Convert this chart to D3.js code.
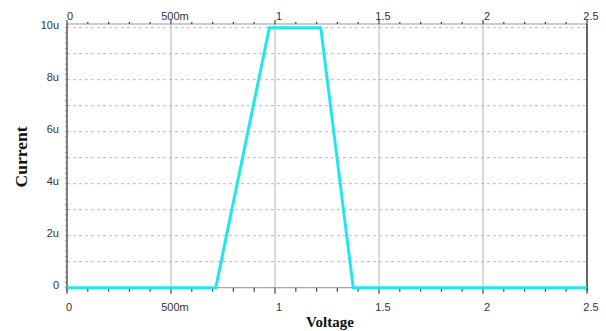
<!DOCTYPE html>
<html>
<head>
<meta charset="utf-8">
<script src="https://cdn.jsdelivr.net/npm/d3@7"></script>
<style>
  body { margin: 0; background: #fff; }
  svg { display: block; }
  .tick-label { font-family: "Liberation Sans", Arial, sans-serif; font-size: 11px; fill: #333; }
  .axis-title { font-family: "Liberation Serif", "Times New Roman", serif; font-weight: bold; font-size: 15px; fill: #111; }
</style>
</head>
<body>
<svg id="chart" width="606" height="331"></svg>
<script>
/* ───────────── DATA ───────────── */
const voltage = [0, 0.715, 0.973, 1.22, 1.376, 2.5];       // V
const current = [0, 0, 10, 10, 0, 0];                      // µA
const xTicks  = [0, 0.5, 1, 1.5, 2, 2.5];
const xLabels = ["0", "500m", "1", "1.5", "2", "2.5"];
const yTicks  = [0, 2, 4, 6, 8, 10];
const yLabels = ["0", "2u", "4u", "6u", "8u", "10u"];

/* ───────────── LAYOUT ───────────── */
const svg = d3.select("#chart");
const plotL = 67, plotR = 587, plotT = 27.7, plotB = 287.7, axisTop = 24;

const x = d3.scaleLinear().domain([0, 2.5]).range([plotL, plotR]);
const y = d3.scaleLinear().domain([0, 10]).range([plotB, plotT]);

const g = svg.append("g");

/* horizontal dashed grid, every 1u */
g.selectAll("line.hgrid")
  .data(d3.range(0, 11))
  .join("line")
  .attr("x1", plotL).attr("x2", plotR)
  .attr("y1", d => y(d)).attr("y2", d => y(d))
  .attr("stroke", d => d === 0 ? "#e8b0b0" : "#bbb")
  .attr("stroke-width", 1)
  .attr("stroke-dasharray", "3,3");

/* vertical grid at major ticks */
g.selectAll("line.vgrid")
  .data(xTicks.slice(1, -1))
  .join("line")
  .attr("x1", d => x(d)).attr("x2", d => x(d))
  .attr("y1", axisTop).attr("y2", plotB)
  .attr("stroke", "#b4b4b4")
  .attr("stroke-width", 1);

/* top axis line + ticks */
g.append("line")
  .attr("x1", plotL).attr("x2", plotR)
  .attr("y1", axisTop).attr("y2", axisTop)
  .attr("stroke", "#999").attr("stroke-width", 1);

const minorX = d3.range(0, 26).map(i => i / 10);
g.selectAll("line.topTick")
  .data(minorX)
  .join("line")
  .attr("x1", d => x(d)).attr("x2", d => x(d))
  .attr("y1", d => (Math.round(d * 10) % 5 === 0) ? axisTop - 4 : axisTop - 2)
  .attr("y2", axisTop)
  .attr("stroke", "#444").attr("stroke-width", 1.2);

/* bottom axis line + ticks */
g.append("line")
  .attr("x1", plotL).attr("x2", plotR)
  .attr("y1", plotB).attr("y2", plotB)
  .attr("stroke", "#999").attr("stroke-width", 1);

g.selectAll("line.botTick")
  .data(minorX)
  .join("line")
  .attr("x1", d => x(d)).attr("x2", d => x(d))
  .attr("y1", plotB)
  .attr("y2", d => (Math.round(d * 10) % 5 === 0) ? plotB + 6 : plotB + 4)
  .attr("stroke", "#444").attr("stroke-width", 1.2);

/* left axis with minor ticks */
g.append("line")
  .attr("x1", plotL).attr("x2", plotL)
  .attr("y1", axisTop).attr("y2", plotB + 3)
  .attr("stroke", "#555").attr("stroke-width", 1.5);

g.selectAll("line.yTick")
  .data(d3.range(0, 51).map(i => i / 5))
  .join("line")
  .attr("x1", plotL - 2).attr("x2", plotL + 1)
  .attr("y1", d => y(d)).attr("y2", d => y(d))
  .attr("stroke", "#777").attr("stroke-width", 0.8);

/* right border */
g.append("line")
  .attr("x1", plotR).attr("x2", plotR)
  .attr("y1", axisTop).attr("y2", plotB + 3)
  .attr("stroke", "#333").attr("stroke-width", 1.5);

/* tick labels */
g.selectAll("text.xTop")
  .data(xTicks)
  .join("text")
  .attr("class", "tick-label")
  .attr("x", (d, i) => x(d) + (i === 0 ? 3 : 4))
  .attr("y", 20)
  .attr("text-anchor", "middle")
  .text((d, i) => xLabels[i]);

g.selectAll("text.xBot")
  .data(xTicks)
  .join("text")
  .attr("class", "tick-label")
  .attr("x", (d, i) => x(d) + (i === 0 ? 2 : 4))
  .attr("y", 311)
  .attr("text-anchor", "middle")
  .text((d, i) => xLabels[i]);

g.selectAll("text.yLab")
  .data(yTicks)
  .join("text")
  .attr("class", "tick-label")
  .attr("x", 59)
  .attr("y", d => y(d) + 1)
  .attr("text-anchor", "end")
  .text((d, i) => yLabels[i]);

/* curve */
const pts = voltage.map((v, i) => [v, current[i]]);
g.append("path")
  .datum(pts)
  .attr("fill", "none")
  .attr("stroke", "#22e6ee")
  .attr("stroke-width", 3)
  .attr("stroke-linejoin", "miter")
  .attr("d", d3.line().x(d => x(d[0])).y(d => y(d[1])));

/* axis titles */
svg.append("text")
  .attr("class", "axis-title")
  .attr("x", 330).attr("y", 327)
  .attr("text-anchor", "middle")
  .text("Voltage");

svg.append("text")
  .attr("class", "axis-title")
  .attr("transform", "translate(27,157) rotate(-90)")
  .attr("text-anchor", "middle")
  .style("font-size", "17.5px")
  .text("Current");
</script>
</body>
</html>
